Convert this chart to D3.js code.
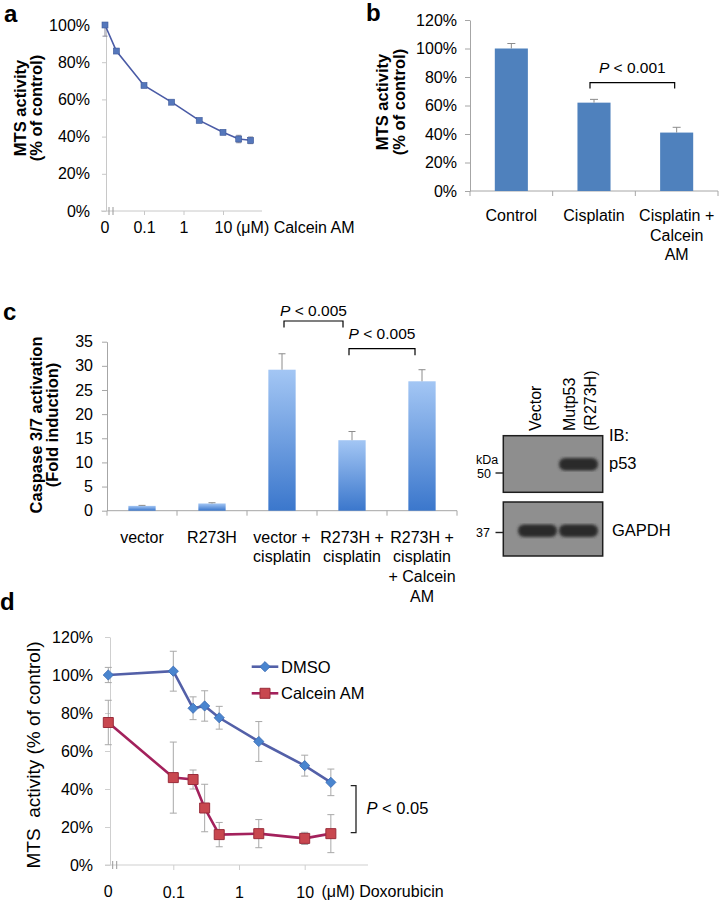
<!DOCTYPE html>
<html>
<head>
<meta charset="utf-8">
<script src="https://cdn.jsdelivr.net/npm/d3@7"></script>
<style>
  body { margin: 0; background: #fff; }
  text { font-family: "Liberation Sans", Arial, sans-serif; fill: #000; }
</style>
</head>
<body>
<div id="fig"></div>
<script>
// ---- panel a : MTS vs Calcein AM dose
var concA = [0, 0.02, 0.1, 0.5, 2.5, 10, 25, 50];
var mtsA  = [100, 86, 67.5, 58.5, 48.7, 42.3, 38.7, 38];
var errA  = [6, 1, 0.8, 0.8, 0.8, 1, 2, 1.8];
var ticksA = [0, 20, 40, 60, 80, 100];
var logTicks = [0.1, 1, 10];

// ---- panel b : MTS bars
var catsB = [["Control"], ["Cisplatin"], ["Cisplatin +", "Calcein", "AM"]];
var mtsB  = [100, 62, 41];
var errB  = [3.5, 2.3, 3.7];
var ticksB = [0, 20, 40, 60, 80, 100, 120];

// ---- panel c : caspase 3/7
var catsC = [["vector"], ["R273H"], ["vector +", "cisplatin"], ["R273H +", "cisplatin"], ["R273H +", "cisplatin", "+ Calcein", "AM"]];
var caspC = [1.0, 1.5, 29.2, 14.6, 26.8];
var errC  = [0.1, 0.15, 3.3, 1.8, 2.4];
var ticksC = [0, 5, 10, 15, 20, 25, 30, 35];

// ---- western blot
var lanes = [["Vector"], ["Mutp53", "(R273H)"]];
var p53Band   = [0, 1];
var gapdhBand = [1, 1];

// ---- panel d : doxorubicin dose
var concD = [0, 0.1, 0.2, 0.3, 0.5, 2, 10, 25];
var dmso      = [100, 102, 82.5, 83.7, 77.5, 65, 52.3, 43.5];
var dmsoErr   = [4, 10.5, 6, 8, 6, 10.5, 5.5, 7];
var calcein   = [75, 46, 45, 30, 16, 16.5, 14, 16.5];
var calceinErr = [11.7, 18.7, 5, 12.5, 6.4, 7.4, 3.2, 10];
var ticksD = [0, 20, 40, 60, 80, 100, 120];

var FS = 16; // tick / category label size

var svg = d3.select("#fig").append("svg").attr("width", 721).attr("height", 900);
var defs = svg.append("defs");

function styleAxis(g, color, size) {
  g.attr("font-size", size).attr("font-family", null);
  g.select(".domain").attr("stroke", color);
  g.selectAll(".tick line").attr("stroke", color);
}

function panelLetter(t, x, y) {
  svg.append("text").attr("x", x).attr("y", y).attr("font-size", 24)
    .attr("font-weight", "bold").text(t);
}

// rotated y label, one text per line
function yLabel(lines, xs, yc, size, weight) {
  lines.forEach(function(l, i) {
    svg.append("text").attr("transform", "translate(" + xs[i] + "," + yc + ") rotate(-90)")
      .attr("text-anchor", "middle").attr("font-size", size).attr("font-weight", weight)
      .text(l);
  });
}

function pLabel(g, x, y, rest, size, anchor) {
  var t = g.append("text").attr("x", x).attr("y", y).attr("font-size", size)
    .attr("text-anchor", anchor);
  t.append("tspan").attr("font-style", "italic").text("P");
  t.append("tspan").text(rest);
}

function errBars(g, xs, ys, es, yScale, cap, color, upOnly) {
  xs.forEach(function(x, i) {
    var top = yScale(ys[i] + es[i]);
    var bot = upOnly ? yScale(ys[i]) : yScale(ys[i] - es[i]);
    g.append("line").attr("x1", x).attr("x2", x).attr("y1", top).attr("y2", bot)
      .attr("stroke", color).attr("stroke-width", 1);
    g.append("line").attr("x1", x - cap / 2).attr("x2", x + cap / 2).attr("y1", top).attr("y2", top)
      .attr("stroke", color).attr("stroke-width", 1);
    if (!upOnly)
      g.append("line").attr("x1", x - cap / 2).attr("x2", x + cap / 2).attr("y1", bot).attr("y2", bot)
        .attr("stroke", color).attr("stroke-width", 1);
  });
}

// ================= panel a
panelLetter("a", 4, 22);
var pa = svg.append("g");
var ya = d3.scaleLinear().domain([0, 100]).range([211, 25]);
var xaLog = d3.scaleLog().domain([0.1, 10]).range([144, 223]);
var xa = function(c) { return c === 0 ? 105 : xaLog(c); };

pa.append("g").attr("transform", "translate(106,0)")
  .call(d3.axisLeft(ya).tickValues(ticksA).tickSize(4).tickSizeOuter(0).tickPadding(12)
    .tickFormat(function(d) { return d + "%"; }))
  .call(function(g) { styleAxis(g, "#c8c8c8", FS); });

pa.append("line").attr("x1", 101).attr("x2", 262).attr("y1", 211).attr("y2", 211).attr("stroke", "#c8c8c8");
pa.append("g").attr("transform", "translate(0,211)")
  .call(d3.axisBottom(xaLog).tickValues(logTicks).tickSize(4).tickPadding(7).tickFormat(d3.format("")))
  .call(function(g) { g.select(".domain").remove(); styleAxis(g, "#c8c8c8", FS); });
[109, 113].forEach(function(x) {
  pa.append("line").attr("x1", x).attr("x2", x).attr("y1", 207).attr("y2", 215).attr("stroke", "#999");
});
pa.append("text").attr("x", 105).attr("y", 233).attr("text-anchor", "middle").attr("font-size", FS).text("0");
pa.append("text").attr("x", 236).attr("y", 233).attr("font-size", FS).text("(\u03bcM) Calcein AM");

defs.append("clipPath").attr("id", "clipA").append("rect")
  .attr("x", 95).attr("y", 25).attr("width", 180).attr("height", 190);
errBars(pa.append("g").attr("clip-path", "url(#clipA)"), concA.map(xa), mtsA, errA, ya, 5, "#8a8a9a", false);

pa.append("path").datum(concA.map(function(c, i) { return [c, mtsA[i]]; }))
  .attr("fill", "none").attr("stroke", "#4a5ba6").attr("stroke-width", 1.6)
  .attr("d", d3.line().x(function(d) { return xa(d[0]); }).y(function(d) { return ya(d[1]); }));
pa.selectAll("rect.pt").data(concA).enter().append("rect").attr("class", "pt")
  .attr("x", function(c) { return xa(c) - 3; })
  .attr("y", function(c, i) { return ya(mtsA[i]) - 3; })
  .attr("width", 6).attr("height", 6).attr("fill", "#5577bb").attr("stroke", "#3f5a9a").attr("stroke-width", 0.6);

yLabel(["MTS activity", "(% of control)"], [26, 42], 108, 16.5, "bold");

// ================= panel b
panelLetter("b", 366, 21);
var pb = svg.append("g");
var yb = d3.scaleLinear().domain([0, 120]).range([191, 20]);
var xb = d3.scaleBand().domain(d3.range(catsB.length)).range([470, 718]).paddingInner(0.6).paddingOuter(0.3);

pb.append("g").attr("transform", "translate(470,0)")
  .call(d3.axisLeft(yb).tickValues(ticksB).tickSize(5).tickSizeOuter(0).tickPadding(8)
    .tickFormat(function(d) { return d + "%"; }))
  .call(function(g) { styleAxis(g, "#a6a6a6", FS); });
pb.append("line").attr("x1", 470).attr("x2", 718).attr("y1", 191).attr("y2", 191).attr("stroke", "#a6a6a6");
d3.range(catsB.length + 1).forEach(function(i) {
  var x = 470 + i * xb.step();
  pb.append("line").attr("x1", x).attr("x2", x).attr("y1", 191).attr("y2", 196).attr("stroke", "#a6a6a6");
});
pb.selectAll("rect.bar").data(mtsB).enter().append("rect").attr("class", "bar")
  .attr("x", function(d, i) { return xb(i); }).attr("width", xb.bandwidth())
  .attr("y", function(d) { return yb(d); }).attr("height", function(d) { return 191 - yb(d); })
  .attr("fill", "#4f81bd");
errBars(pb, mtsB.map(function(d, i) { return xb(i) + xb.bandwidth() / 2; }), mtsB, errB, yb, 8, "#8c8c8c", true);
catsB.forEach(function(lines, i) {
  lines.forEach(function(l, j) {
    pb.append("text").attr("x", xb(i) + xb.bandwidth() / 2).attr("y", 221 + j * 19.5)
      .attr("text-anchor", "middle").attr("font-size", FS).text(l);
  });
});
// bracket
var bx1 = xb(1) + xb.bandwidth() / 2 - 4, bx2 = xb(2) + xb.bandwidth() / 2 - 2;
pb.append("path").attr("d", "M" + bx1 + ",88.5V82.7H" + bx2 + "V88.5").attr("fill", "none").attr("stroke", "#000").attr("stroke-width", 1.2);
pLabel(pb, (bx1 + bx2) / 2, 73, "  < 0.001", 15.5, "middle");
yLabel(["MTS activity", "(% of control)"], [388, 405], 102, 16.5, "bold");

// ================= panel c
panelLetter("c", 3, 320);
var pc = svg.append("g");
var yc = d3.scaleLinear().domain([0, 35]).range([510.7, 341.7]);
var xc = d3.scaleBand().domain(d3.range(catsC.length)).range([107, 457]).paddingInner(0.61).paddingOuter(0.305);
var grad = defs.append("linearGradient").attr("id", "gradC").attr("x1", 0).attr("x2", 0).attr("y1", 0).attr("y2", 1);
grad.append("stop").attr("offset", "0%").attr("stop-color", "#a3c6f4");
grad.append("stop").attr("offset", "100%").attr("stop-color", "#3b77cc");

pc.append("g").attr("transform", "translate(107,0)")
  .call(d3.axisLeft(yc).tickValues(ticksC).tickSize(5).tickSizeOuter(0).tickPadding(9))
  .call(function(g) { styleAxis(g, "#a6a6a6", FS); });
pc.append("line").attr("x1", 107).attr("x2", 457).attr("y1", 510.7).attr("y2", 510.7).attr("stroke", "#a6a6a6");
d3.range(catsC.length + 1).forEach(function(i) {
  var x = 107 + i * xc.step();
  pc.append("line").attr("x1", x).attr("x2", x).attr("y1", 510.7).attr("y2", 515.7).attr("stroke", "#a6a6a6");
});
pc.selectAll("rect.bar").data(caspC).enter().append("rect").attr("class", "bar")
  .attr("x", function(d, i) { return xc(i); }).attr("width", xc.bandwidth())
  .attr("y", function(d) { return yc(d); }).attr("height", function(d) { return 510.7 - yc(d); })
  .attr("fill", "url(#gradC)");
errBars(pc, caspC.map(function(d, i) { return xc(i) + xc.bandwidth() / 2; }), caspC, errC, yc, 7, "#8c8c8c", true);
catsC.forEach(function(lines, i) {
  lines.forEach(function(l, j) {
    pc.append("text").attr("x", xc(i) + xc.bandwidth() / 2).attr("y", 542.5 + j * 19.7)
      .attr("text-anchor", "middle").attr("font-size", FS).text(l);
  });
});
var cc = function(i) { return xc(i) + xc.bandwidth() / 2; };
[[2, 3, 321, 316, 2, -9], [3, 4, 348.7, 339, -3, -7]].forEach(function(b) {
  var x1 = cc(b[0]) + b[4], x2 = cc(b[1]) + b[5];
  pc.append("path").attr("d", "M" + x1 + "," + (b[2] + 6.5) + "V" + b[2] + "H" + x2 + "V" + (b[2] + 6.5))
    .attr("fill", "none").attr("stroke", "#000").attr("stroke-width", 1.2);
  pLabel(pc, (x1 + x2) / 2, b[3], " < 0.005", 15.5, "middle");
});
yLabel(["Caspase 3/7 activation", "(Fold induction)"], [42, 58], 425, 16.5, "bold");

// ================= western blot
var wb = svg.append("g");
var lx = d3.scaleBand().domain(d3.range(lanes.length)).range([517, 599]);
defs.append("filter").attr("id", "blur").append("feGaussianBlur").attr("stdDeviation", 1.4);
wb.append("rect").attr("x", 503.3).attr("y", 435.7).attr("width", 99.4).attr("height", 56.6)
  .attr("fill", "#8e8e8e").attr("stroke", "#1e1e1e").attr("stroke-width", 1.5);
wb.append("rect").attr("x", 503.3).attr("y", 502).attr("width", 99.4).attr("height", 54)
  .attr("fill", "#8f8f8f").attr("stroke", "#1e1e1e").attr("stroke-width", 1.5);
function bands(vals, yTop, h) {
  vals.forEach(function(v, i) {
    if (v <= 0) return;
    wb.append("rect").attr("x", lx(i) + 1).attr("y", yTop).attr("width", lx.bandwidth() - 2).attr("height", h)
      .attr("rx", 6).attr("fill", "#2a2a2a").attr("opacity", v).attr("filter", "url(#blur)");
  });
}
bands(p53Band, 458, 12.5);
bands(gapdhBand, 524.5, 12.5);
var laneOff = [[-2], [-9.5, 11.5]];
lanes.forEach(function(lines, i) {
  lines.forEach(function(l, j) {
    var x = lx(i) + lx.bandwidth() / 2 + laneOff[i][j] + 5.5;
    wb.append("text").attr("transform", "translate(" + x + ",431) rotate(-90)")
      .attr("font-size", 16).text(l);
  });
});
wb.append("text").attr("x", 609).attr("y", 441).attr("font-size", 16.5).text("IB:");
wb.append("text").attr("x", 609).attr("y", 469).attr("font-size", 16.5).text("p53");
wb.append("text").attr("x", 612).attr("y", 536).attr("font-size", 16.5).text("GAPDH");
wb.append("text").attr("x", 476).attr("y", 464).attr("font-size", 12.5).text("kDa");
wb.append("text").attr("x", 477).attr("y", 478).attr("font-size", 12.5).text("50");
wb.append("text").attr("x", 476).attr("y", 537).attr("font-size", 12.5).text("37");
[473, 532.5].forEach(function(y) {
  wb.append("line").attr("x1", 495.5).attr("x2", 503).attr("y1", y).attr("y2", y).attr("stroke", "#222").attr("stroke-width", 1.4);
});

// ================= panel d
panelLetter("d", 0, 610);
var pd = svg.append("g");
var yd = d3.scaleLinear().domain([0, 120]).range([865, 637]);
var xdLog = d3.scaleLog().domain([0.1, 10]).range([173.3, 304.7]);
var xd = function(c) { return c === 0 ? 108.3 : xdLog(c); };

pd.append("g").attr("transform", "translate(110,0)")
  .call(d3.axisLeft(yd).tickValues(ticksD).tickSize(5).tickSizeOuter(0).tickPadding(12)
    .tickFormat(function(d) { return d + "%"; }))
  .call(function(g) { styleAxis(g, "#cfcfcf", FS); });
pd.append("line").attr("x1", 105).attr("x2", 368).attr("y1", 865).attr("y2", 865).attr("stroke", "#cfcfcf");
pd.append("g").attr("transform", "translate(0,865)")
  .call(d3.axisBottom(xdLog).tickValues(logTicks).tickSize(5).tickPadding(17).tickFormat(d3.format("")))
  .call(function(g) { g.select(".domain").remove(); styleAxis(g, "#cfcfcf", FS); });
[112.7, 116.7].forEach(function(x) {
  pd.append("line").attr("x1", x).attr("x2", x).attr("y1", 861).attr("y2", 869).attr("stroke", "#999");
});
pd.append("text").attr("x", 108.3).attr("y", 897).attr("text-anchor", "middle").attr("font-size", FS).text("0");
pd.append("text").attr("x", 321.5).attr("y", 897).attr("font-size", FS).text("(\u03bcM) Doxorubicin");

var seriesD = [
  { name: "DMSO", vals: dmso, err: dmsoErr, line: "#5360a8", fill: "#4a85cf", stroke: "#3a6bb5", sym: "diamond" },
  { name: "Calcein AM", vals: calcein, err: calceinErr, line: "#a3215c", fill: "#c8474f", stroke: "#9a2c3a", sym: "square" }
];
seriesD.forEach(function(s) {
  errBars(pd, concD.map(xd), s.vals, s.err, yd, 7, "#a8a8a8", false);
});
function marker(g, s, x, y) {
  if (s.sym === "diamond") {
    g.append("path").attr("transform", "translate(" + x + "," + y + ") rotate(45)")
      .attr("d", d3.symbol(d3.symbolSquare, 52)()).attr("fill", s.fill).attr("stroke", s.stroke).attr("stroke-width", 0.8);
  } else {
    g.append("path").attr("transform", "translate(" + x + "," + y + ")")
      .attr("d", d3.symbol(d3.symbolSquare, 100)()).attr("fill", s.fill).attr("stroke", s.stroke).attr("stroke-width", 1);
  }
}
seriesD.forEach(function(s) {
  pd.append("path").datum(concD.map(function(c, i) { return [c, s.vals[i]]; }))
    .attr("fill", "none").attr("stroke", s.line).attr("stroke-width", 2.6)
    .attr("d", d3.line().x(function(d) { return xd(d[0]); }).y(function(d) { return yd(d[1]); }));
});
seriesD.forEach(function(s) {
  concD.forEach(function(c, i) { marker(pd, s, xd(c), yd(s.vals[i])); });
});
// legend
seriesD.forEach(function(s, i) {
  var y = 666.7 + i * 26.6;
  pd.append("line").attr("x1", 251.7).attr("x2", 278.3).attr("y1", y).attr("y2", y).attr("stroke", s.line).attr("stroke-width", 2.6);
  marker(pd, s, 265, y);
  pd.append("text").attr("x", 281).attr("y", y + 6).attr("font-size", 16.5).text(s.name);
});
// significance bracket
pd.append("path").attr("d", "M350.7,785.7H356V832.7H350.7").attr("fill", "none").attr("stroke", "#222").attr("stroke-width", 1.3);
pLabel(pd, 366.5, 814, " < 0.05", 16.5, "start");
yLabel(["MTS\u00a0 activity (% of control)"], [40], 755, 19, "normal");
</script>
</body>
</html>
